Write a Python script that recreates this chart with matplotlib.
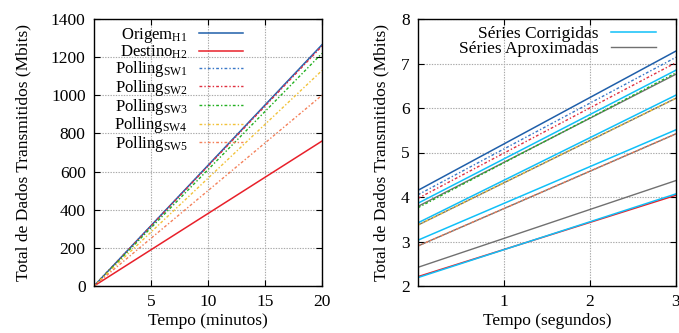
import matplotlib
matplotlib.use("Agg")
import matplotlib.pyplot as plt
from matplotlib.lines import Line2D

plt.rcParams['font.family'] = ['Liberation Serif', 'DejaVu Serif']
plt.rcParams['mathtext.fontset'] = 'custom'
plt.rcParams['mathtext.rm'] = 'Liberation Serif'
plt.rcParams['mathtext.it'] = 'Liberation Serif:italic'
plt.rcParams['font.size'] = 12.5

# ---- Left panel data (minutes -> Mbits) ----
t_min = [0, 20]
origem_h1 = [0, 1265]
destino_h2 = [0, 760]
polling_sw1 = [0, 1262]
polling_sw2 = [0, 1258]
polling_sw3 = [0, 1220]
polling_sw4 = [0, 1130]
polling_sw5 = [0, 1000]

# ---- Right panel data (seconds -> Mbits) ----
t_sec = [0, 3]
r_origem = [4.15, 7.28]
r_sw1 = [4.05, 7.14]
r_sw2 = [3.97, 7.02]
r_sw3 = [3.76, 6.79]
r_sw4 = [3.37, 6.22]
r_sw5 = [2.90, 5.42]
r_destino = [2.21, 4.04]
corrigidas = [[3.86, 6.85], [3.42, 6.29], [3.03, 5.51], [2.19, 4.07]]
aproximadas = [[3.79, 6.76], [3.37, 6.22], [2.90, 5.42], [2.42, 4.37]]

c_origem = '#1f5faa'
c_destino = '#e8202a'
c_sw1 = '#3a78c8'
c_sw2 = '#e03040'
c_sw3 = '#22b020'
c_sw4 = '#f2c23a'
c_sw5 = '#f4805a'
c_corr = '#10c0f8'
c_aprox = '#707070'
dot = (0, (2, 1.5, 1, 1.5))

fig = plt.figure(figsize=(6.79, 3.33), dpi=100)
ax1 = fig.add_axes([94/679, 1-286/333, (322-94)/679, (286-19)/333])
ax2 = fig.add_axes([418/679, 1-286/333, (676-418)/679, (286-19)/333])

ax1.plot(t_min, origem_h1, color=c_origem, lw=1.1, label=r'Origem$_{\mathrm{H1}}$')
ax1.plot(t_min, destino_h2, color=c_destino, lw=1.1, label=r'Destino$_{\mathrm{H2}}$')
ax1.plot(t_min, polling_sw1, color=c_sw1, lw=1.0, ls=dot, label=r'Polling$_{\mathrm{SW1}}$')
ax1.plot(t_min, polling_sw2, color=c_sw2, lw=1.0, ls=dot, label=r'Polling$_{\mathrm{SW2}}$')
ax1.plot(t_min, polling_sw3, color=c_sw3, lw=1.0, ls=dot, label=r'Polling$_{\mathrm{SW3}}$')
ax1.plot(t_min, polling_sw4, color=c_sw4, lw=1.0, ls=dot, label=r'Polling$_{\mathrm{SW4}}$')
ax1.plot(t_min, polling_sw5, color=c_sw5, lw=1.0, ls=dot, label=r'Polling$_{\mathrm{SW5}}$')

ax1.set_xlim(0, 20)
ax1.set_ylim(0, 1400)
ax1.set_xticks([5, 10, 15, 20])
ax1.set_yticks(range(0, 1401, 200))
ax1.set_xlabel('Tempo (minutos)', labelpad=2)
ax1.set_ylabel('Total de Dados Transmitidos (Mbits)', labelpad=14)
leg1 = ax1.legend(loc='upper left', markerfirst=False, frameon=False,
                  handlelength=2.6, labelspacing=-0.08, borderaxespad=0.0,
                  handletextpad=0.7, bbox_to_anchor=(0.06, 1.0), fontsize=12)
leg1._legend_box.align = 'right'

# Right panel
for a in aproximadas:
    ax2.plot(t_sec, a, color=c_aprox, lw=1.0)
ax2.plot(t_sec, r_origem, color=c_origem, lw=1.1)
ax2.plot(t_sec, r_sw1, color=c_sw1, lw=1.0, ls=dot)
ax2.plot(t_sec, r_sw2, color=c_sw2, lw=1.0, ls=dot)
ax2.plot(t_sec, r_sw3, color=c_sw3, lw=1.0, ls=dot)
ax2.plot(t_sec, r_sw4, color=c_sw4, lw=1.0, ls=dot)
ax2.plot(t_sec, r_sw5, color=c_sw5, lw=1.0, ls=dot)
ax2.plot(t_sec, r_destino, color=c_destino, lw=1.1)
for c in corrigidas:
    ax2.plot(t_sec, c, color=c_corr, lw=1.1)

h = [Line2D([], [], color=c_corr, lw=1.1), Line2D([], [], color=c_aprox, lw=1.0)]
leg2 = ax2.legend(h, ['Séries Corrigidas', 'Séries Aproximadas'], loc='upper right',
                  markerfirst=False, frameon=False, handlelength=2.6,
                  labelspacing=-0.05, borderaxespad=0.0, handletextpad=0.7,
                  bbox_to_anchor=(0.95, 1.0), fontsize=12.5)
leg2._legend_box.align = 'right'

ax2.set_xlim(0, 3)
ax2.set_ylim(2, 8)
ax2.set_xticks([1, 2, 3])
ax2.set_yticks(range(2, 9))
ax2.set_xlabel('Tempo (segundos)', labelpad=2)
ax2.set_ylabel('Total de Dados Transmitidos (Mbits)', labelpad=8)

for ax in (ax1, ax2):
    ax.grid(True, color='#a8a8a8', ls=(0, (1.2, 1.2)), lw=0.8)
    ax.tick_params(direction='in', top=True, right=True, length=4, width=0.8,
                   labelsize=12.5, pad=6)
    for s in ax.spines.values():
        s.set_linewidth(1.0)

fig.savefig('out.png', dpi=100)
